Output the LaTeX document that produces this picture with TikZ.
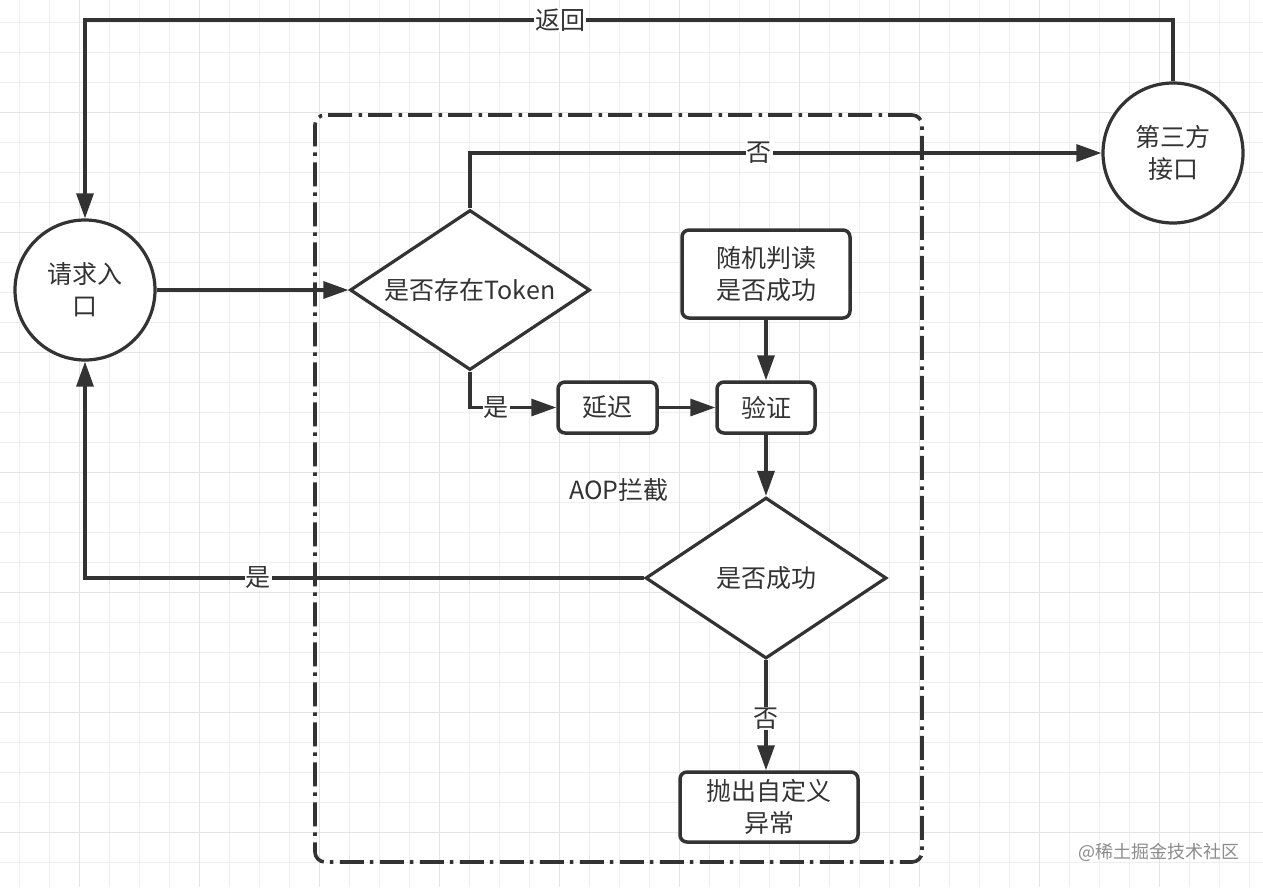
\documentclass[tikz,border=0pt]{standalone}
\usepackage{fontspec}
\setmainfont{Noto Sans CJK SC}
\usetikzlibrary{shapes.geometric,arrows.meta}
\definecolor{ink}{HTML}{333333}
\definecolor{gridl}{HTML}{EEEEEE}
\definecolor{gridd}{HTML}{E3E3E3}
\begin{document}
\begin{tikzpicture}[x=1pt,y=-1pt,
  txt/.style={font=\fontsize{25}{32}\selectfont, text=ink, align=center},
  line/.style={draw=ink, line width=3.2pt},
  arr/.style={line, -{Triangle[length=25pt,width=17pt]}},
  roundbox/.style={txt, draw=ink, line width=3.5pt, rounded corners=7pt, fill=white, inner sep=0pt},
  circ/.style={txt, circle, draw=ink, line width=3.2pt, fill=white, minimum size=140pt, inner sep=0pt},
  dia/.style={txt, diamond, draw=ink, line width=3.2pt, fill=white, inner sep=0pt, aspect=1.5},
  lab/.style={txt, fill=white, inner sep=1pt},
  container/.style={draw=ink, line width=3.6pt, rounded corners=10pt, dash pattern=on 24pt off 6pt on 3.5pt off 6.5pt}
]
\useasboundingbox (0,0) rectangle (1263,887);
\fill[white] (0,0) rectangle (1263,887);
% grid
\foreach \i in {0,...,41} {\draw[gridl, line width=1pt] ({19.3+30*\i},0) -- ({19.3+30*\i},887);}
\foreach \i in {0,...,29} {\draw[gridl, line width=1pt] (0,{22.7+30*\i}) -- (1263,{22.7+30*\i});}
\foreach \i in {0,...,10} {\draw[gridd, line width=1pt] ({79.3+120*\i},0) -- ({79.3+120*\i},887);}
\foreach \i in {0,...,6} {\draw[gridd, line width=1pt] (0,{112.7+120*\i}) -- (1263,{112.7+120*\i});}

% container
\node[container, minimum width=607pt, minimum height=747pt] (aop) at (618.5,488.5) {};
\node[txt] (aoplab) at (619,490) {AOP拦截};

% nodes
\node[circ] (c1) at (85,290) {请求入\\口};
\node[circ] (c2) at (1173,153) {第三方\\接口};
\node[dia, minimum width=240pt, minimum height=160pt] (d1) at (470,290) {是否存在Token};
\node[roundbox, minimum width=99pt, minimum height=51pt] (delay) at (607.5,407.5) {延迟};
\node[roundbox, minimum width=98pt, minimum height=51pt] (verify) at (766,407.5) {验证};
\node[roundbox, minimum width=168pt, minimum height=88pt] (rand) at (766,274) {随机判读\\是否成功};
\node[dia, minimum width=241pt, minimum height=161pt] (d2) at (766,578) {是否成功};
\node[roundbox, minimum width=178pt, minimum height=70pt] (exc) at (769,807) {抛出自定义\\异常};
\coordinate (topline) at (600,20);

% connectors
\draw[arr] (c1.east) -- (d1.west);
\draw[arr] (c2.north) -- (c2.north |- topline) -- node[lab, pos=0.563] (lback) {返回} (c1.north |- topline) -- (c1.north);
\draw[arr] (d1.north) |- node[lab, pos=0.729] (lno1) {否} (c2.west);
\draw[arr] (d1.south) |- node[lab, pos=0.653] (lyes1) {是} (delay.west);
\draw[arr] (delay.east) -- (verify.west);
\draw[arr] (rand.south) -- (verify.north);
\draw[arr] (verify.south) -- (d2.north);
\draw[arr] (d2.west) -| node[lab, pos=0.345] (lyes2) {是} (c1.south);
\draw[arr] (d2.south) -- node[lab, pos=0.53] (lno2) {否} (d2.south |- exc.north);

% watermark
\node[font=\fontsize{18}{20}\selectfont, text=black!45] (wm) at (1159,852) {@稀土掘金技术社区};
\end{tikzpicture}
\end{document}
